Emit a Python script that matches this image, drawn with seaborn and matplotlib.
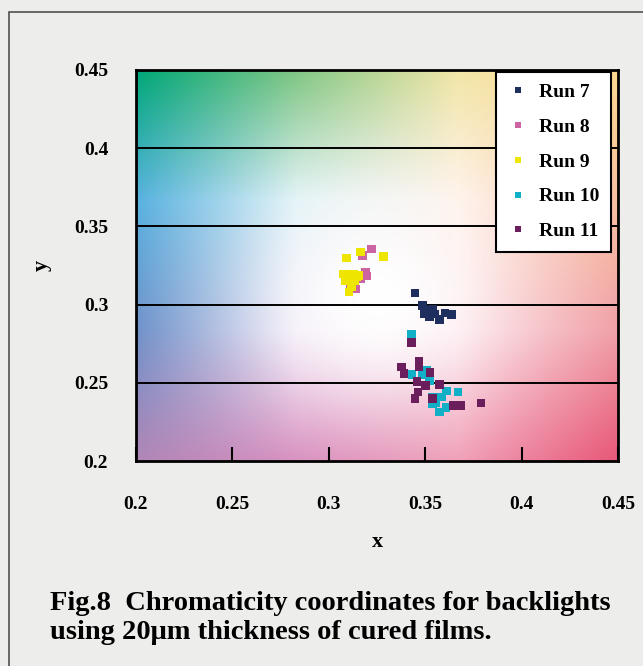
import numpy as np
import pandas as pd
import matplotlib
matplotlib.use("Agg")
import matplotlib.pyplot as plt
from matplotlib.colors import to_rgb
from matplotlib.patches import Rectangle
import seaborn as sns

# %%
# Chromaticity coordinates
run7_x = [0.3446, 0.3485, 0.3539, 0.3494, 0.3521, 0.3575, 0.3602, 0.3637, 0.3512, 0.3548]
run7_y = [0.3075, 0.2994, 0.2973, 0.2941, 0.2920, 0.2903, 0.2945, 0.2935, 0.2962, 0.2941]

run8_x = [0.3222, 0.3176, 0.3190, 0.3199, 0.3163, 0.3140, 0.3110]
run8_y = [0.3356, 0.3314, 0.3207, 0.3182, 0.3165, 0.3101, 0.3122]

run9_x = [0.3092, 0.3163, 0.3285, 0.3074, 0.3101, 0.3127, 0.3154, 0.3083, 0.3110,
          0.3136, 0.3118, 0.3104, 0.3145]
run9_y = [0.3299, 0.3337, 0.3308, 0.3197, 0.3197, 0.3193, 0.3186, 0.3154, 0.3158,
          0.3154, 0.3112, 0.3080, 0.3176]

run10_x = [0.3428, 0.3432, 0.3485, 0.3509, 0.3521, 0.3539, 0.3539, 0.3584, 0.3611,
           0.3670, 0.3607, 0.3575, 0.3557]
run10_y = [0.2809, 0.2554, 0.2554, 0.2583, 0.2515, 0.2409, 0.2366, 0.2409, 0.2447,
           0.2441, 0.2341, 0.2313, 0.2373]

run11_x = [0.3428, 0.3378, 0.3391, 0.3467, 0.3467, 0.3525, 0.3458, 0.3503, 0.3575,
           0.3462, 0.3446, 0.3539, 0.3646, 0.3682, 0.3790]
run11_y = [0.2756, 0.2601, 0.2558, 0.2639, 0.2601, 0.2566, 0.2509, 0.2483, 0.2488,
           0.2441, 0.2398, 0.2398, 0.2356, 0.2356, 0.2371]

runs = ["Run 7", "Run 8", "Run 9", "Run 10", "Run 11"]
colors = ["#1E2E5E", "#CC64A4", "#EEE600", "#12B0C6", "#6A1E5C"]

frames = []
for name, xs, ys in zip(runs,
                        [run7_x, run8_x, run9_x, run10_x, run11_x],
                        [run7_y, run8_y, run9_y, run10_y, run11_y]):
    frames.append(pd.DataFrame({"x": xs, "y": ys, "run": name}))
df = pd.concat(frames, ignore_index=True)

# %%
# background: rough colour field behind the points (chromaticity diagram look)
gx = [0.2, 0.283, 0.367, 0.45]
gy = [0.2, 0.283, 0.367, 0.45]
grid_cols = [
    ["#B086B6", "#D890C0", "#F0A0B8", "#E85878"],
    ["#7092CA", "#F0E8F6", "#FCE6EC", "#F0A0A8"],
    ["#58B2E0", "#E0F2F6", "#FFF2EA", "#F8C0A0"],
    ["#00A878", "#80C684", "#F2E6A8", "#FFD890"],
]


def background(n=200):
    xs = np.linspace(0.2, 0.45, n)
    ys = np.linspace(0.2, 0.45, n)
    rgb = np.array([[to_rgb(c) for c in row] for row in grid_cols])  # (4,4,3)
    # interpolate along x for each grid row, then along y
    rows = np.zeros((4, n, 3))
    for i in range(4):
        for ch in range(3):
            rows[i, :, ch] = np.interp(xs, gx, rgb[i, :, ch])
    img = np.zeros((n, n, 3))
    for j in range(n):
        for ch in range(3):
            img[:, j, ch] = np.interp(ys, gy, rows[:, j, ch])
    X, Y = np.meshgrid(xs, ys)
    w = np.exp(-(((X - 0.325) / 0.05) ** 2 + ((Y - 0.305) / 0.06) ** 2))
    img = img * (1 - w[..., None]) + w[..., None]
    return img


# %%
plt.rcParams["font.family"] = ["Liberation Serif", "DejaVu Serif"]
plt.rcParams["font.weight"] = "bold"

fig = plt.figure(figsize=(6.43, 6.66), dpi=100, facecolor="#EDEEEC")
fig.patches.append(Rectangle((9 / 643, -0.1), 1.2, 1 - 12 / 666 + 0.1,
                             transform=fig.transFigure, fill=False,
                             edgecolor="#505050", lw=1.2))

ax = fig.add_axes([136 / 643, 1 - 461 / 666, 482 / 643, 391 / 666])
ax.imshow(background(), extent=[0.2, 0.45, 0.2, 0.45], origin="lower",
          aspect="auto", zorder=0)

for yv in [0.25, 0.3, 0.35, 0.4]:
    ax.axhline(yv, color="black", lw=1.4, zorder=1)

sns.scatterplot(data=df, x="x", y="y", hue="run", hue_order=runs,
                palette=colors, marker="s", s=38, linewidth=0,
                ax=ax, zorder=3)

ax.set_xlim(0.2, 0.45)
ax.set_ylim(0.2, 0.45)
ax.set_xticks([0.2, 0.25, 0.3, 0.35, 0.4, 0.45])
ax.set_xticklabels(["0.2", "0.25", "0.3", "0.35", "0.4", "0.45"])
ax.set_yticks([0.2, 0.25, 0.3, 0.35, 0.4, 0.45])
ax.set_yticklabels(["0.2", "0.25", "0.3", "0.35", "0.4", "0.45"])
ax.tick_params(axis="x", direction="in", length=10, width=1.5, pad=25,
               labelsize=14)
ax.tick_params(axis="y", length=0, pad=20, labelsize=14)
for lab in ax.get_xticklabels() + ax.get_yticklabels():
    lab.set_fontweight("bold")
for sp in ax.spines.values():
    sp.set_linewidth(2)
    sp.set_color("black")

ax.set_xlabel("x", fontsize=16, fontweight="bold", labelpad=14)
ax.set_ylabel("y", fontsize=16, fontweight="bold", labelpad=16)

leg = ax.legend(loc="upper right", bbox_to_anchor=(0.986, 0.995),
                frameon=True, fancybox=False, borderaxespad=0.0,
                labelspacing=0.88, handletextpad=0.6, handlelength=1.0,
                borderpad=0.6, markerscale=0.75,
                prop={"weight": "bold", "size": 14})
leg.get_frame().set_edgecolor("black")
leg.get_frame().set_linewidth(1.5)
leg.get_frame().set_facecolor("white")
leg.get_frame().set_alpha(1)

fig.text(50 / 643, 1 - 618 / 666,
         "Fig.8  Chromaticity coordinates for backlights\nusing 20μm thickness of cured films.",
         fontsize=20.5, fontweight="bold", va="center", ha="left",
         linespacing=1.2)

fig.savefig("out.png", dpi=100, facecolor=fig.get_facecolor())
